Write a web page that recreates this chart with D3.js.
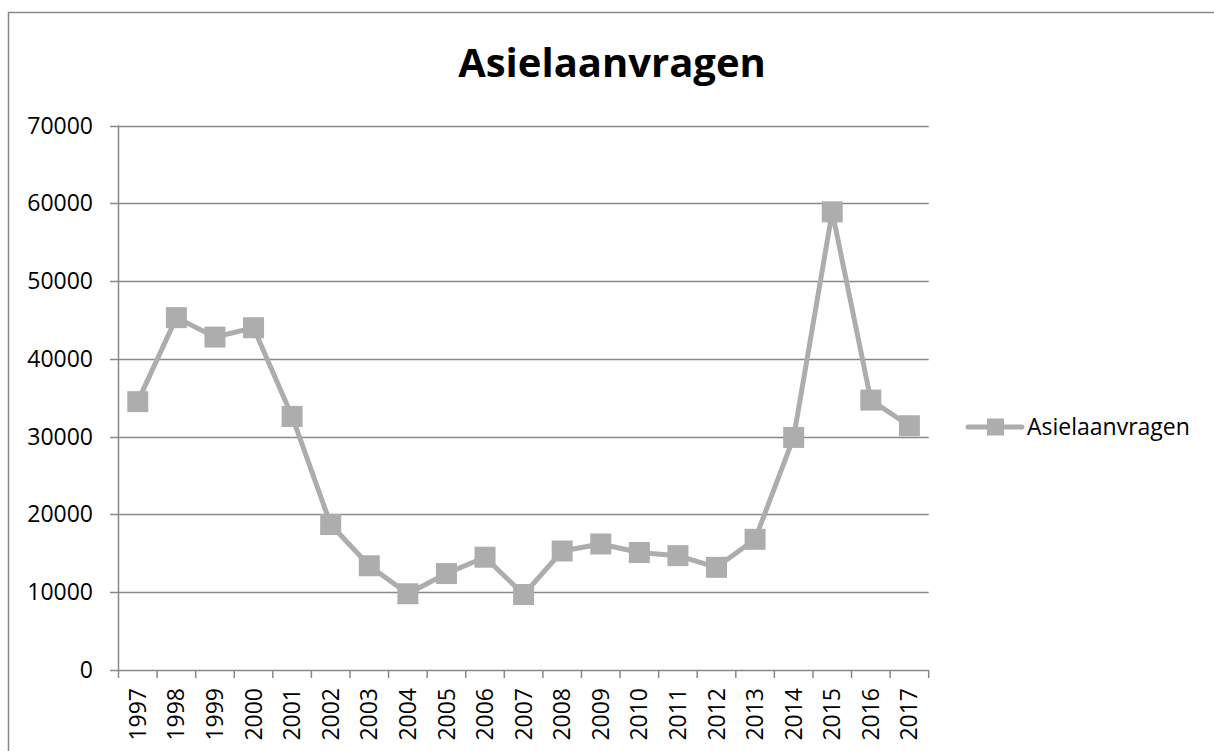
<!DOCTYPE html>
<html>
<head>
<meta charset="utf-8">
<script src="https://cdn.jsdelivr.net/npm/d3@7"></script>
<style>
  body { margin: 0; background: #fff; }
  svg { display: block; font-family: "Open Sans", sans-serif; }
</style>
</head>
<body>
<div id="chart"></div>
<script>
// data
const years = ['1997','1998','1999','2000','2001','2002','2003','2004','2005','2006','2007',
  '2008','2009','2010','2011','2012','2013','2014','2015','2016','2017'];
const aanvragen = [34500, 45300, 42800, 44000, 32600, 18700, 13400, 9800, 12400, 14500, 9700,
  15300, 16200, 15100, 14700, 13200, 16800, 29900, 58900, 34700, 31400];
const yTicks = [0, 10000, 20000, 30000, 40000, 50000, 60000, 70000];
const seriesName = 'Asielaanvragen';

const width = 1214, height = 751;
const gridColor = '#888888';
const seriesColor = '#adadad';
const labelSize = '23px';

const svg = d3.select('#chart').append('svg')
    .attr('width', width)
    .attr('height', height);

// outer chart frame (runs off the right and bottom of the picture)
svg.append('rect')
    .attr('x', 8.5).attr('y', 12.5)
    .attr('width', 1230).attr('height', 800)
    .attr('fill', 'none')
    .attr('stroke', gridColor)
    .attr('stroke-width', 1.5);

const x = d3.scaleBand()
    .domain(years)
    .range([118.5, 928.7])
    .padding(0);

const y = d3.scaleLinear()
    .domain([0, 70000])
    .range([670, 125.5]);

// title
svg.append('text')
    .attr('x', 612).attr('y', 77)
    .attr('text-anchor', 'middle')
    .style('font-size', '40px')
    .style('font-weight', 'bold')
    .text(seriesName);

// gridlines + y ticks
svg.append('g')
    .selectAll('line')
    .data(yTicks)
    .join('line')
    .attr('x1', 110).attr('x2', 928.7)
    .attr('y1', d => Math.round(y(d)) + 0.5)
    .attr('y2', d => Math.round(y(d)) + 0.5)
    .attr('stroke', gridColor)
    .attr('stroke-width', 1.5);

svg.append('g')
    .selectAll('text')
    .data(yTicks)
    .join('text')
    .attr('x', 93)
    .attr('y', d => y(d))
    .attr('dy', '0.35em')
    .attr('text-anchor', 'end')
    .style('font-size', labelSize)
    .text(d => d);

// y axis line
svg.append('line')
    .attr('x1', 118.5).attr('x2', 118.5)
    .attr('y1', y(70000)).attr('y2', y(0))
    .attr('stroke', gridColor)
    .attr('stroke-width', 1.5);

// x ticks at band edges
const edges = years.map(d => x(d)).concat([x(years[years.length - 1]) + x.bandwidth()]);
svg.append('g')
    .selectAll('line')
    .data(edges)
    .join('line')
    .attr('x1', d => d).attr('x2', d => d)
    .attr('y1', y(0)).attr('y2', y(0) + 8)
    .attr('stroke', gridColor)
    .attr('stroke-width', 1.5);

// year labels, rotated
svg.append('g')
    .selectAll('text')
    .data(years)
    .join('text')
    .attr('transform', d => `translate(${x(d) + x.bandwidth() / 2}, 688) rotate(-90)`)
    .attr('dy', '0.35em')
    .attr('text-anchor', 'end')
    .style('font-size', labelSize)
    .text(d => d);

// series line
const points = years.map((d, i) => ({year: d, value: aanvragen[i]}));
const line = d3.line()
    .x(d => x(d.year) + x.bandwidth() / 2)
    .y(d => y(d.value));

svg.append('path')
    .datum(points)
    .attr('d', line)
    .attr('fill', 'none')
    .attr('stroke', seriesColor)
    .attr('stroke-width', 5)
    .attr('stroke-linejoin', 'round');

const m = 21;
svg.append('g')
    .selectAll('rect')
    .data(points)
    .join('rect')
    .attr('x', d => x(d.year) + x.bandwidth() / 2 - m / 2)
    .attr('y', d => y(d.value) - m / 2)
    .attr('width', m).attr('height', m)
    .attr('fill', seriesColor);

// legend
const lg = svg.append('g').attr('transform', 'translate(968, 427)');
lg.append('line')
    .attr('x1', 0).attr('x2', 54)
    .attr('stroke', seriesColor)
    .attr('stroke-width', 5)
    .attr('stroke-linecap', 'round');
lg.append('rect')
    .attr('x', 19).attr('y', -8.5)
    .attr('width', 17).attr('height', 17)
    .attr('fill', seriesColor);
lg.append('text')
    .attr('x', 59).attr('y', 0)
    .attr('dy', '0.35em')
    .style('font-size', labelSize)
    .text(seriesName);
</script>
</body>
</html>
